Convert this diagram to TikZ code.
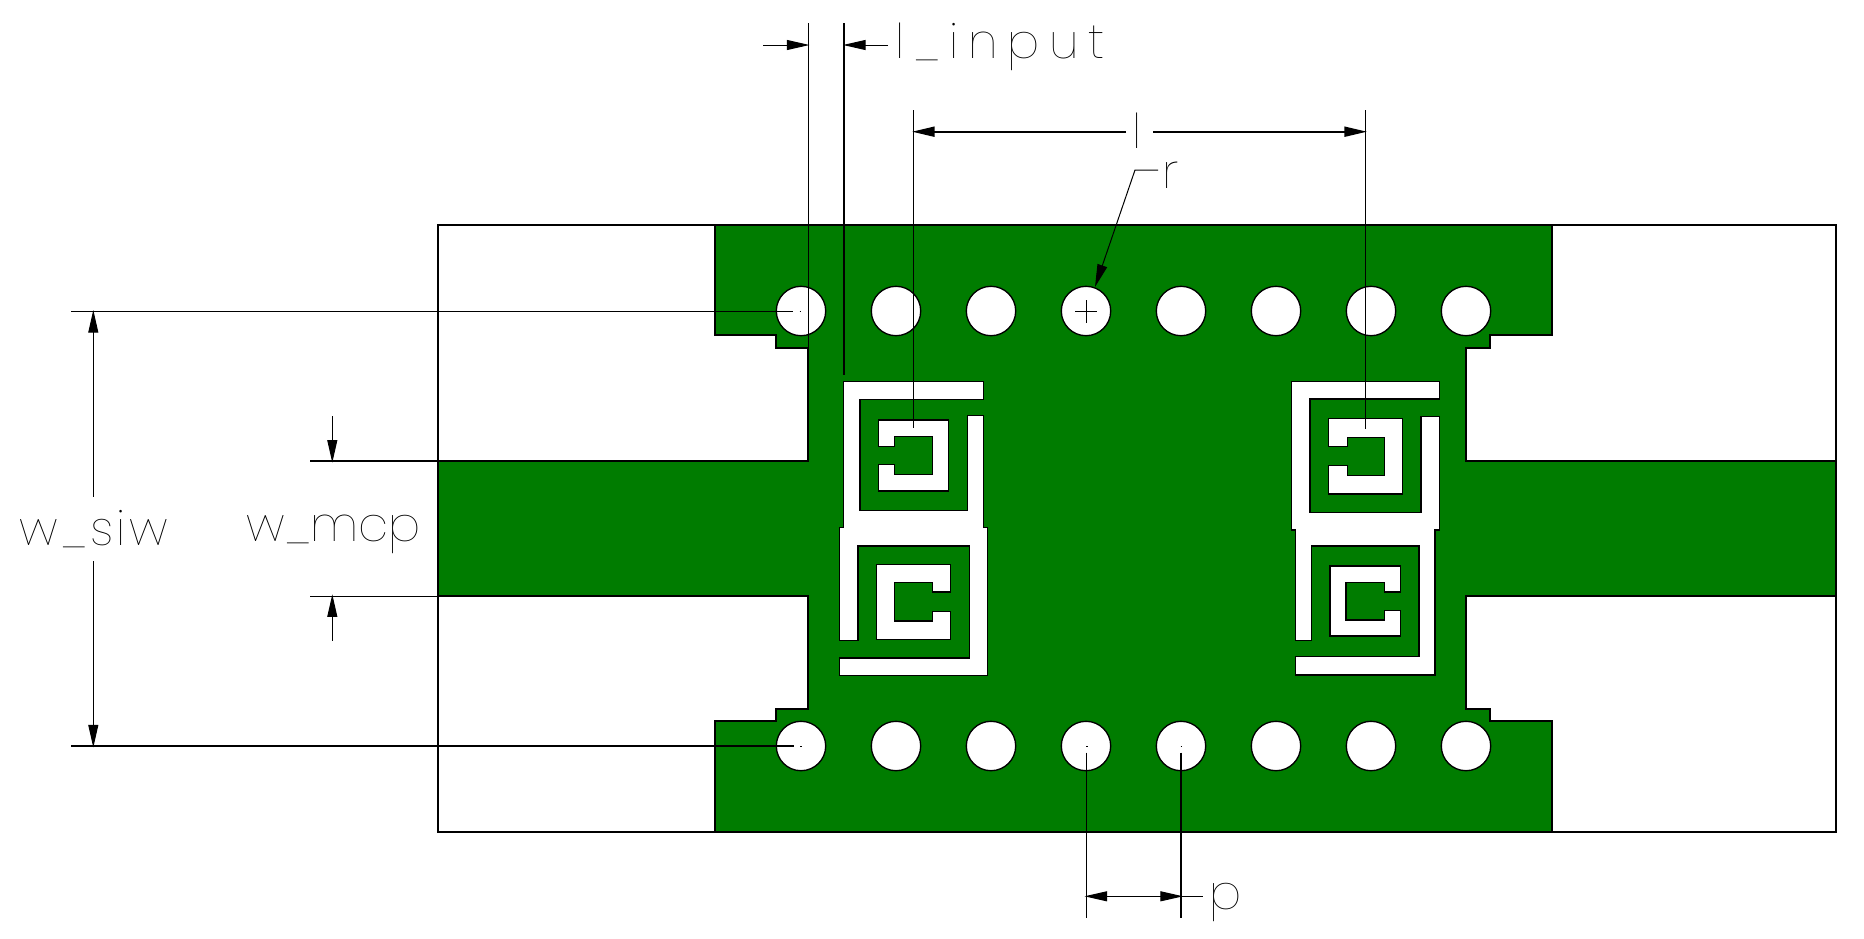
\documentclass[tikz,border=0pt]{standalone}
\usepackage{fontspec}
\usetikzlibrary{arrows.meta}
\newfontfamily\cadfont{Poppins Thin}
\definecolor{boardgreen}{RGB}{0,124,0}
\tikzset{every picture/.style={line width=0.75pt}}
\tikzset{
	metal/.style={fill=boardgreen,draw=black,line width=1.5pt},
	slot/.style={fill=white,draw=black,line width=1pt},
	via/.style={fill=white,draw=black,line width=1pt},
	extline/.style={draw=black,line width=0.75pt},
	heavyline/.style={draw=black,line width=1.5pt},
	dimtip/.style={-{Triangle[length=17pt,width=7.5pt]}},
	dimlabel/.style={anchor=base west,inner sep=0pt,font=\cadfont\fontsize{36}{36}\selectfont},
}

\begin{document}
\begin{tikzpicture}[x=0.75pt,y=0.75pt,yscale=-1,xscale=1]
	\useasboundingbox (0,0) rectangle (1864,939);

	%Shape: Substrate outline
	\draw [heavyline,fill=white] (437.7,225) rectangle (1836,831.7) ;
	%Shape: Metal layer
	\draw [metal] (715,225) -- (1552.3,225) -- (1552.3,335.3) -- (1490.3,335.3) -- (1490.3,348) -- (1466,348) -- (1466,461) -- (1836,461) -- (1836,596.3) -- (1466,596.3) -- (1466,709.3) -- (1490.3,709.3) -- (1490.3,721.3) -- (1552.3,721.3) -- (1552.3,831.7) -- (715,831.7) -- (715,721.3) -- (776.3,721.3) -- (776.3,709.3) -- (808.3,709.3) -- (808.3,596.3) -- (437.7,596.3) -- (437.7,461) -- (808.3,461) -- (808.3,348) -- (776.3,348) -- (776.3,335.3) -- (715,335.3) -- cycle ;

	%Shape: Left outer rings
	\draw [slot] (843.7,381.7) -- (983.3,381.7) -- (983.3,399.3) -- (860,399.3) -- (860,510.7) -- (967.3,510.7) -- (967.3,415.7) -- (983.3,415.7) -- (983.3,527.3) -- (987.3,527.3) -- (987.3,675.7) -- (839.7,675.7) -- (839.7,658) -- (969.3,658) -- (969.3,546) -- (858,546) -- (858,640.3) -- (839.7,640.3) -- (839.7,527.3) -- (843.7,527.3) -- cycle ;
	%Shape: Left upper inner ring
	\draw [slot] (878.7,420) -- (948.3,420) -- (948.3,491) -- (878.7,491) -- (878.7,464.7) -- (894.7,464.7) -- (894.7,474.7) -- (932.7,474.7) -- (932.7,436.7) -- (894.7,436.7) -- (894.7,446.3) -- (878.7,446.3) -- cycle ;
	%Shape: Left lower inner ring
	\draw [slot] (876.7,564.7) -- (950.7,564.7) -- (950.7,592) -- (932.7,592) -- (932.7,582.7) -- (894.7,582.7) -- (894.7,621) -- (932.7,621) -- (932.7,611.7) -- (950.7,611.7) -- (950.7,639.3) -- (876.7,639.3) -- cycle ;

	%Shape: Right outer rings
	\draw [slot] (1291.7,381.7) -- (1439.3,381.7) -- (1439.3,399) -- (1310,399) -- (1310,512.3) -- (1421,512.3) -- (1421,416.7) -- (1439.3,416.7) -- (1439.3,530) -- (1435,530) -- (1435,675) -- (1295.7,675) -- (1295.7,656.7) -- (1419,656.7) -- (1419,546) -- (1311.7,546) -- (1311.7,640.7) -- (1295.7,640.7) -- (1295.7,530) -- (1291.7,530) -- cycle ;
	%Shape: Right upper inner ring
	\draw [slot] (1328.7,418.3) -- (1402.7,418.3) -- (1402.7,494) -- (1328.7,494) -- (1328.7,465.7) -- (1347.3,465.7) -- (1347.3,475.7) -- (1384.3,475.7) -- (1384.3,437.3) -- (1347.3,437.3) -- (1347.3,446.7) -- (1328.7,446.7) -- cycle ;
	%Shape: Right lower inner ring
	\draw [slot] (1330,566) -- (1400.3,566) -- (1400.3,592) -- (1384.7,592) -- (1384.7,582.3) -- (1346,582.3) -- (1346,620) -- (1384.7,620) -- (1384.7,610.7) -- (1400.3,610.7) -- (1400.3,636) -- (1330,636) -- cycle ;

	%Shape: Top vias
	\draw [via] (801,311) circle (24.7) ;
	\draw [via] (896,311) circle (24.7) ;
	\draw [via] (991,311) circle (24.7) ;
	\draw [via] (1086,311) circle (24.7) ;
	\draw [via] (1181,311) circle (24.7) ;
	\draw [via] (1276,311) circle (24.7) ;
	\draw [via] (1371,311) circle (24.7) ;
	\draw [via] (1466,311) circle (24.7) ;
	%Shape: Bottom vias
	\draw [via] (801,746) circle (24.7) ;
	\draw [via] (896,746) circle (24.7) ;
	\draw [via] (991,746) circle (24.7) ;
	\draw [via] (1086,746) circle (24.7) ;
	\draw [via] (1181,746) circle (24.7) ;
	\draw [via] (1276,746) circle (24.7) ;
	\draw [via] (1371,746) circle (24.7) ;
	\draw [via] (1466,746) circle (24.7) ;

	%Straight Lines: centre marks
	\draw [extline] (1075,311.5) -- (1097,311.5) (1086,300) -- (1086,323) ;
	\draw [extline] (799.5,311.5) -- (801,311.5) (800,746) -- (801.5,746) (1086,746) -- (1087.5,746) (1180.5,746) -- (1182,746) ;

	%Straight Lines: extension of l_input
	\draw [extline] (808.5,23) -- (808.5,461) ;
	\draw [heavyline] (844,23) -- (844,375) ;
	%Straight Lines: arrows of l_input
	\draw [extline,dimtip] (763,45) -- (809.5,45) ;
	\draw [extline,dimtip] (888,45) -- (843,45) ;
	% Text Node
	\draw (895,58) node [dimlabel] (linput) {\addfontfeature{LetterSpace=20}l\_input};

	%Straight Lines: extension of l
	\draw [extline] (913.3,110) -- (913.3,428.3) ;
	\draw [extline] (1365.5,110) -- (1365.5,429.3) ;
	%Straight Lines: arrows of l
	\draw [heavyline,dimtip] (1126,131.7) -- (912,131.7) ;
	\draw [heavyline,dimtip] (1153,131.7) -- (1367,131.7) ;
	% Text Node
	\draw (1132,148) node [dimlabel] (llabel) {l};

	%Straight Lines: leader of r
	\draw [extline,dimtip] (1158,170) -- (1135,170) -- (1095,287) ;
	% Text Node
	\draw (1162,188) node [dimlabel] (rlabel) {r};

	%Straight Lines: extension of w_siw
	\draw [extline] (71,311.3) -- (792.5,311.3) ;
	\draw [heavyline] (71,745.7) -- (794,745.7) ;
	%Straight Lines: arrows of w_siw
	\draw [extline,dimtip] (93.3,496.7) -- (93.3,310) ;
	\draw [extline,dimtip] (93.3,561) -- (93.3,747.5) ;
	% Text Node
	\draw (19,545) node [dimlabel] (wsiw) {\addfontfeature{LetterSpace=7}w\_siw};

	%Straight Lines: extension of w_mcp
	\draw [heavyline] (310,461) -- (438,461) ;
	\draw [extline] (310,596.3) -- (438,596.3) ;
	%Straight Lines: arrows of w_mcp
	\draw [extline,dimtip] (332.3,416) -- (332.3,462.7) ;
	\draw [extline,dimtip] (332.3,640.7) -- (332.3,594.3) ;
	% Text Node
	\draw (246,541.7) node [dimlabel] (wmcp) {w\_mcp};

	%Straight Lines: extension of p
	\draw [extline] (1086.3,752.7) -- (1086.3,918.3) ;
	\draw [heavyline] (1181,752.7) -- (1181,918.3) ;
	%Straight Lines: arrows of p
	\draw [extline,dimtip] (1135,896.3) -- (1084.5,896.3) ;
	\draw [extline,dimtip] (1135,896.3) -- (1183,896.3) ;
	\draw [extline] (1181,896.3) -- (1203,896.3) ;
	% Text Node
	\draw (1209,909) node [dimlabel] (plabel) {p};

\end{tikzpicture}
\end{document}
